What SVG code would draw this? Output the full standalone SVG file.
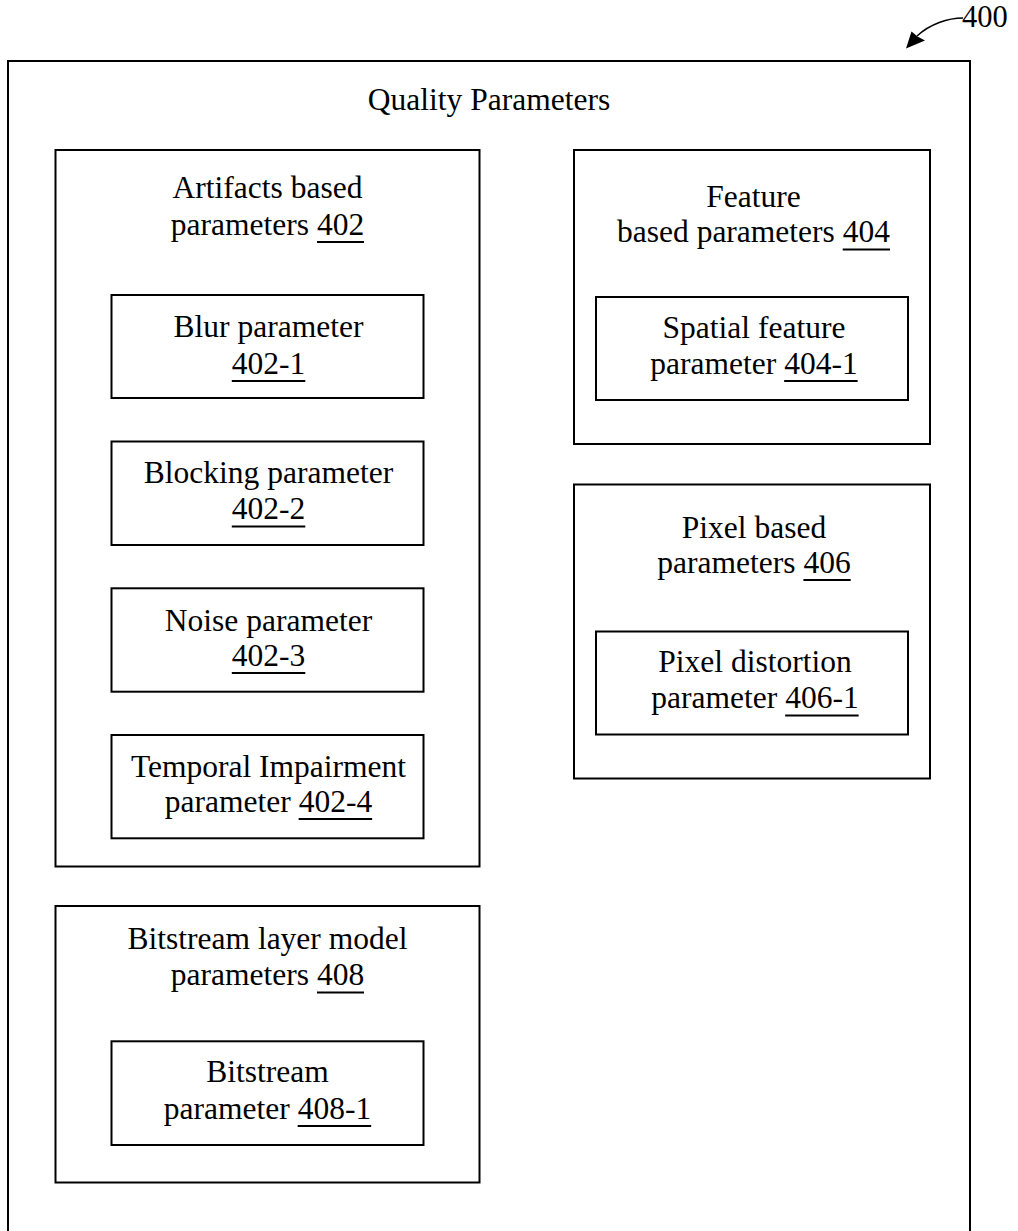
<svg xmlns="http://www.w3.org/2000/svg" width="1018" height="1231" viewBox="0 0 1018 1231">
<style>
  .box { fill: none; stroke: #000; stroke-width: 2; }
  .t { font-family: "Liberation Serif", "Times New Roman", serif; font-size: 31.5px; fill: #000; text-anchor: middle; }
  .ul { stroke: #000; stroke-width: 1.8; }
  .ref { font-family: "Liberation Serif", "Times New Roman", serif; font-size: 30.5px; fill: #000; }
</style>
<rect width="1018" height="1231" fill="#fff"/>

<g id="quality-parameters-400">
  <path class="box" d="M8,1240 V61 H970 V1240"/>
  <text class="t" x="489" y="110">Quality Parameters</text>
</g>

<g id="artifacts-402">
  <rect class="box" x="55.5" y="150" width="424" height="716.5"/>
  <text class="t" x="267.5" y="198">Artifacts based</text>
  <text class="t" x="267.5" y="235">parameters 402</text>
  <line class="ul" x1="317" y1="242" x2="364" y2="242"/>
</g>

<g id="blur-402-1">
  <rect class="box" x="111.5" y="295" width="312" height="103"/>
  <text class="t" x="268.5" y="337">Blur parameter</text>
  <text class="t" x="268.5" y="374">402-1</text>
  <line class="ul" x1="231.8" y1="381" x2="305.3" y2="381"/>
</g>

<g id="blocking-402-2">
  <rect class="box" x="111.5" y="441.5" width="312" height="103.5"/>
  <text class="t" x="268.5" y="483.3">Blocking parameter</text>
  <text class="t" x="268.5" y="519.3">402-2</text>
  <line class="ul" x1="231.8" y1="526.5" x2="305.3" y2="526.5"/>
</g>

<g id="noise-402-3">
  <rect class="box" x="111.5" y="588.3" width="312" height="103.4"/>
  <text class="t" x="268.5" y="630.7">Noise parameter</text>
  <text class="t" x="268.5" y="665.7">402-3</text>
  <line class="ul" x1="231.8" y1="673" x2="305.3" y2="673"/>
</g>

<g id="temporal-402-4">
  <rect class="box" x="111.5" y="735" width="312" height="103.3"/>
  <text class="t" x="268.5" y="776.7">Temporal Impairment</text>
  <text class="t" x="268.5" y="811.7">parameter 402-4</text>
  <line class="ul" x1="298.65" y1="819" x2="372.15" y2="819"/>
</g>

<g id="feature-404">
  <rect class="box" x="574" y="150" width="356" height="294"/>
  <text class="t" x="753.5" y="206.7">Feature</text>
  <text class="t" x="753.5" y="242">based parameters 404</text>
  <line class="ul" x1="842.7" y1="249.5" x2="890" y2="249.5"/>
</g>

<g id="spatial-404-1">
  <rect class="box" x="596" y="297" width="312" height="103"/>
  <text class="t" x="754" y="338">Spatial feature</text>
  <text class="t" x="754" y="374">parameter 404-1</text>
  <line class="ul" x1="784.15" y1="381" x2="857.65" y2="381"/>
</g>

<g id="pixel-406">
  <rect class="box" x="574" y="484.5" width="356" height="294"/>
  <text class="t" x="754" y="537.7">Pixel based</text>
  <text class="t" x="754" y="572.7">parameters 406</text>
  <line class="ul" x1="803.4" y1="580" x2="850.7" y2="580"/>
</g>

<g id="pixel-distortion-406-1">
  <rect class="box" x="596" y="631.5" width="312" height="103"/>
  <text class="t" x="755" y="671.7">Pixel distortion</text>
  <text class="t" x="755" y="708.3">parameter 406-1</text>
  <line class="ul" x1="785.15" y1="715.5" x2="858.65" y2="715.5"/>
</g>

<g id="bitstream-408">
  <rect class="box" x="55.5" y="906" width="424" height="276.5"/>
  <text class="t" x="267.5" y="949">Bitstream layer model</text>
  <text class="t" x="267.5" y="985">parameters 408</text>
  <line class="ul" x1="317" y1="992.5" x2="364" y2="992.5"/>
</g>

<g id="bitstream-408-1">
  <rect class="box" x="111.5" y="1041.3" width="312" height="103.7"/>
  <text class="t" x="267.5" y="1082">Bitstream</text>
  <text class="t" x="267.5" y="1119">parameter 408-1</text>
  <line class="ul" x1="297.65" y1="1126" x2="371.15" y2="1126"/>
</g>

<g id="label-400">
  <text class="ref" x="962" y="27">400</text>
</g>

<g id="connectors">
  <path d="M963,18 C948,18 930,24 917,36" fill="none" stroke="#000" stroke-width="1.6"/>
  <polygon points="906,48.5 911.5,31.5 917.5,36.5 925,40.5" fill="#000"/>
</g>
</svg>
